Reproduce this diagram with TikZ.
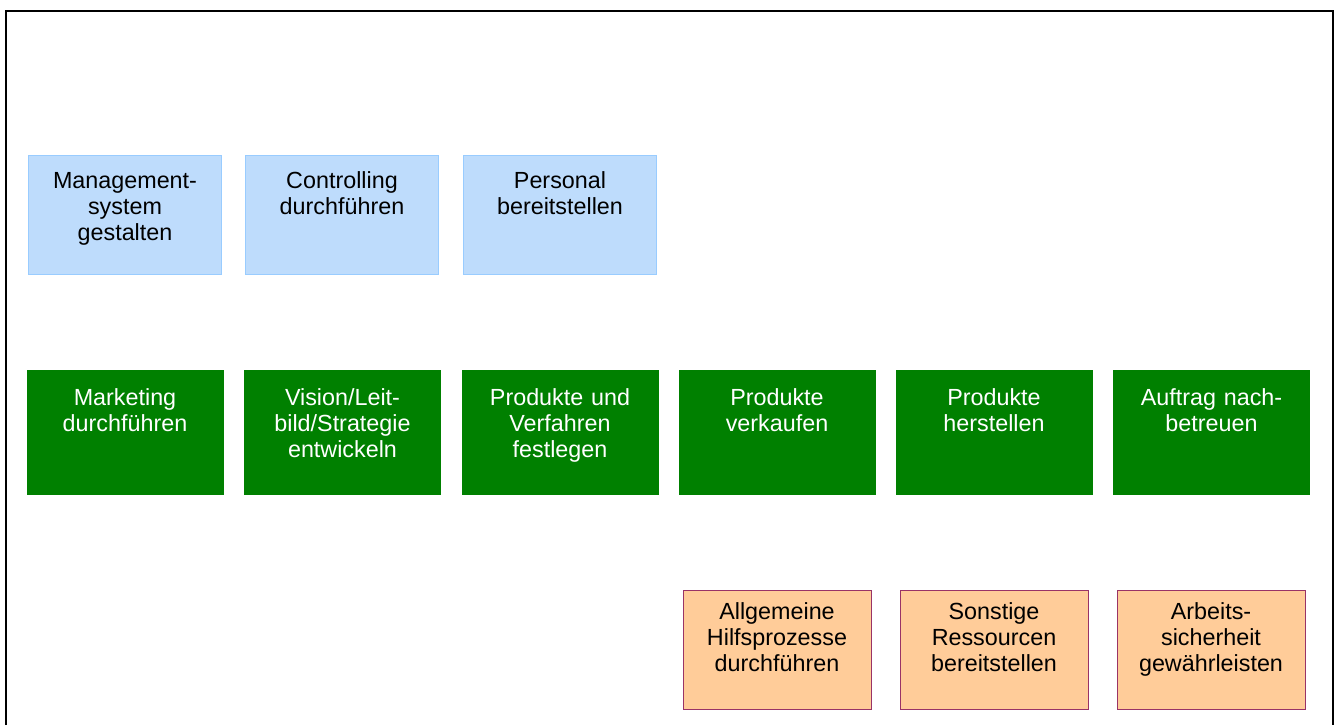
\documentclass[tikz,border=0pt]{standalone}
\usepackage{fontspec}
\setmainfont{Liberation Sans}
\usepackage{xcolor}
\usepackage{tikz}
\usetikzlibrary{positioning}

\definecolor{mgmtfill}{RGB}{190,220,252}
\definecolor{mgmtdraw}{RGB}{153,204,255}
\definecolor{corefill}{RGB}{0,128,0}
\definecolor{supfill}{RGB}{255,204,153}
\definecolor{supdraw}{RGB}{153,51,102}

\begin{document}
\begin{tikzpicture}[x=0.75pt, y=-0.75pt,
    % Styles
    process/.style={
        rectangle,
        align=center,
        inner xsep=0pt,
        inner ysep=0pt,
        font=\fontsize{17.5}{19.5}\selectfont
    },
    mgmt/.style={process, fill=mgmtfill, draw=mgmtdraw, line width=0.75pt,
        text width=144.75pt, text height=25pt, text depth=64.25pt},
    core/.style={process, fill=corefill, draw=corefill, line width=0.5pt,
        text=white, text width=147pt, text height=26.5pt, text depth=66.5pt},
    support/.style={process, fill=supfill, draw=supdraw, line width=0.75pt,
        text width=141pt, text height=22pt, text depth=67.25pt},
    frame/.style={draw=black, line width=1.5pt}
]
\useasboundingbox (0,0) rectangle (1338,725);

% Outer frame (open at the bottom)
\draw[frame] (6,725) -- (6,11) -- (1333,11) -- (1333,725);

% Management processes
\node[mgmt] (msys) at (125,214.5) {Management-\\system\\gestalten};
\node[mgmt] (ctrl) at (342,214.5) {Controlling\\durchf\"uhren};
\node[mgmt] (pers) at (560,214.5) {Personal\\bereitstellen};

% Core processes
\node[core] (mark) at (125,432) {Marketing\\durchf\"uhren};
\node[core] (visn) at (342.5,432) {Vision/Leit-\\bild/Strategie\\entwickeln};
\node[core] (prod) at (560,432) {Produkte und\\Verfahren\\festlegen};
\node[core] (verk) at (777,432) {Produkte\\verkaufen};
\node[core] (hers) at (994,432) {Produkte\\herstellen};
\node[core] (auft) at (1211.5,432) {Auftrag nach-\\betreuen};

% Support processes
\node[support] (hilf) at (777,649.5) {Allgemeine\\Hilfsprozesse\\durchf\"uhren};
\node[support] (ress) at (994,649.5) {Sonstige\\Ressourcen\\bereitstellen};
\node[support] (arbs) at (1211,649.5) {Arbeits-\\sicherheit\\gew\"ahrleisten};

\end{tikzpicture}
\end{document}
